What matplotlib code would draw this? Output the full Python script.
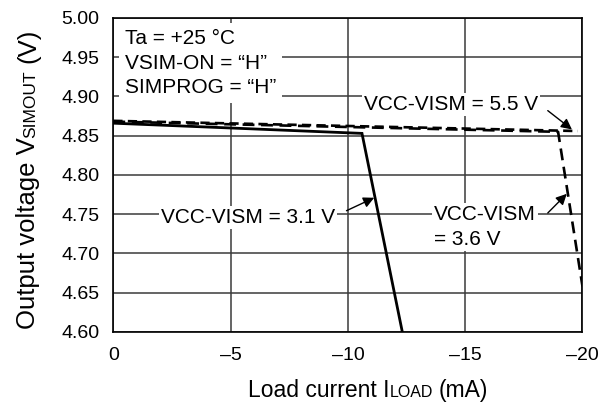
import matplotlib
matplotlib.use("Agg")
import matplotlib.pyplot as plt

plt.rcParams["font.family"] = ["Liberation Sans", "DejaVu Sans"]

# load current (mA) and output voltage (V)
current_31 = [0.0, -10.6, -12.32]
voltage_31 = [4.866, 4.853, 4.600]

current_36 = [0.0, -18.96, -20.0]
voltage_36 = [4.868, 4.855, 4.658]

current_55 = [0.0, -19.8]
voltage_55 = [4.869, 4.856]

x_ticks = [0, -5, -10, -15, -20]
x_tick_labels = ["0", "\u20135", "\u201310", "\u201315", "\u201320"]
y_ticks = [4.60, 4.65, 4.70, 4.75, 4.80, 4.85, 4.90, 4.95, 5.00]
y_tick_labels = ["4.60", "4.65", "4.70", "4.75", "4.80", "4.85", "4.90", "4.95", "5.00"]

conditions = "Ta = +25 \u00b0C\nVSIM-ON = \u201cH\u201d\nSIMPROG = \u201cH\u201d"
label_31 = "VCC-VISM = 3.1 V"
label_36 = "VCC-VISM\n= 3.6 V"
label_55 = "VCC-VISM = 5.5 V"


def place_pieces(fig, renderer, pieces, anchor, center, vertical):
    """
    write a label made of several pieces of text with different sizes
    one after another, all on one baseline, centred on `center` (pixels)
    """
    texts, lengths = [], []
    for text, size, gap in pieces:
        t = fig.text(0, 0, text, fontsize=size,
                     rotation=90 if vertical else 0, rotation_mode="anchor",
                     ha="left", va="baseline")
        ext = t.get_window_extent(renderer)
        texts.append(t)
        lengths.append((ext.height if vertical else ext.width) + gap)

    pos = center - sum(lengths) / 2
    for t, (_, _, gap), length in zip(texts, pieces, lengths):
        pos += gap
        if vertical:
            t.set_position((anchor / fig.bbox.width, pos / fig.bbox.height))
        else:
            t.set_position((pos / fig.bbox.width, anchor / fig.bbox.height))
        pos += length - gap


fig = plt.figure(figsize=(6.05, 4.09), dpi=100)
ax = fig.add_axes([0.1873, 0.1883, 0.7755, 0.7677])

ax.plot(current_31, voltage_31, color="black", lw=2.0, solid_joinstyle="miter")
ax.plot(current_36, voltage_36, color="black", lw=1.9, ls=(0, (4.5, 2.5)))
ax.plot(current_55, voltage_55, color="black", lw=1.9, ls=(0, (3.5, 2.0)))

ax.set_xlim(0, -20)
ax.set_ylim(4.60, 5.00)
ax.set_xticks(x_ticks, x_tick_labels)
ax.set_yticks(y_ticks, y_tick_labels)
ax.tick_params(length=0, labelsize=14)
ax.tick_params(axis="x", pad=11)
ax.tick_params(axis="y", pad=10)
ax.grid(True, color="#3a3a3a", lw=1.1)
ax.set_axisbelow(True)
for spine in ax.spines.values():
    spine.set_linewidth(1.2)

box = dict(facecolor="white", edgecolor="none", pad=1.5)
arrow = dict(arrowstyle="-|>", color="black", lw=1.0,
             mutation_scale=16, shrinkA=0, shrinkB=0)

ax.text(-0.5, 4.986, conditions, fontsize=15, ha="left", va="top",
        linespacing=1.38, bbox=dict(facecolor="white", edgecolor="none", pad=4))

ax.text(-5.74, 4.746, label_31, fontsize=15, ha="center", va="center", bbox=box)
ax.annotate("", xy=(-11.12, 4.771), xytext=(-9.94, 4.7545), arrowprops=arrow)

ax.text(-13.68, 4.762, label_36, fontsize=15, ha="left", va="top",
        linespacing=1.42, bbox=box)
ax.annotate("", xy=(-19.33, 4.776), xytext=(-18.52, 4.7516), arrowprops=arrow)

ax.text(-14.39, 4.890, label_55, fontsize=15, ha="center", va="center", bbox=box)
ax.annotate("", xy=(-19.55, 4.858), xytext=(-18.52, 4.882), arrowprops=arrow)

renderer = fig.canvas.get_renderer()
place_pieces(fig, renderer,
             [("Output voltage V", 18.5, 0), ("SIMOUT", 12.5, 0), ("(V)", 18.5, 7)],
             anchor=35, center=409 - 179, vertical=True)
place_pieces(fig, renderer,
             [("Load current I", 16.5, 0), ("LOAD", 11.5, 0), ("(mA)", 16.5, 6)],
             anchor=409 - 397, center=368, vertical=False)

fig.savefig("out.png", dpi=100)
